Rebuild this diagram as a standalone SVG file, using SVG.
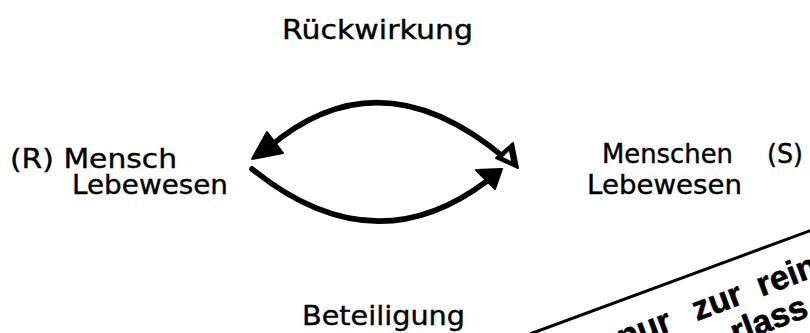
<svg xmlns="http://www.w3.org/2000/svg" width="810" height="333" viewBox="0 0 810 333">
  <style>
    .lbl { font-family: "DejaVu Sans", Verdana, sans-serif; font-size: 27px; fill: #000; stroke: #000; stroke-width: 0.4; }
    .arc { fill: none; stroke: #000; stroke-width: 5.5; stroke-linecap: round; }
    .stamp { font-family: "Liberation Sans", Arial, sans-serif; font-weight: bold; font-size: 34px; fill: #000; stroke: #000; stroke-width: 0.6; }
  </style>
  <rect width="810" height="333" fill="#fff"/>

  <g id="label-top">
    <text class="lbl" x="282" y="39" textLength="191" lengthAdjust="spacingAndGlyphs">Rückwirkung</text>
  </g>
  <g id="node-left">
    <text class="lbl" x="10" y="168" textLength="167" lengthAdjust="spacingAndGlyphs">(R) Mensch</text>
    <text class="lbl" x="72" y="194" textLength="156" lengthAdjust="spacingAndGlyphs">Lebewesen</text>
  </g>
  <g id="node-right">
    <text class="lbl" x="602" y="163" textLength="131" lengthAdjust="spacingAndGlyphs">Menschen</text>
    <text class="lbl" x="767" y="163" textLength="36" lengthAdjust="spacingAndGlyphs">(S)</text>
    <text class="lbl" x="587" y="194" textLength="155" lengthAdjust="spacingAndGlyphs">Lebewesen</text>
  </g>
  <g id="label-bottom">
    <text class="lbl" x="302" y="325" textLength="163" lengthAdjust="spacingAndGlyphs">Beteiligung</text>
  </g>

  <g id="connectors">
    <path class="arc" d="M268,148 Q380,52 506,159"/>
    <polygon points="252,159 283,153 267,132" fill="#000" stroke="#000" stroke-width="2" stroke-linejoin="round"/>
    <polygon points="518,168 496,158 513,143" fill="#000" stroke="#000" stroke-width="2" stroke-linejoin="round"/>
    <polygon points="511,161 503,157 509,151" fill="#fff"/>
    <path class="arc" d="M252,169 Q373,267 487,181"/>
    <polygon points="502,169 476,170 495,189" fill="#000" stroke="#000" stroke-width="2" stroke-linejoin="round"/>
  </g>

  <g id="stamp">
    <line x1="530" y1="334" x2="812" y2="230" stroke="#000" stroke-width="3"/>
    <g transform="translate(697,321) rotate(-20.6)">
      <text class="stamp" x="-25" y="0" text-anchor="end">nur</text>
      <text class="stamp" x="0" y="0">zur</text>
      <text class="stamp" x="69" y="0">rein</text>
      <text class="stamp" x="28" y="35">rlass</text>
    </g>
  </g>
</svg>
